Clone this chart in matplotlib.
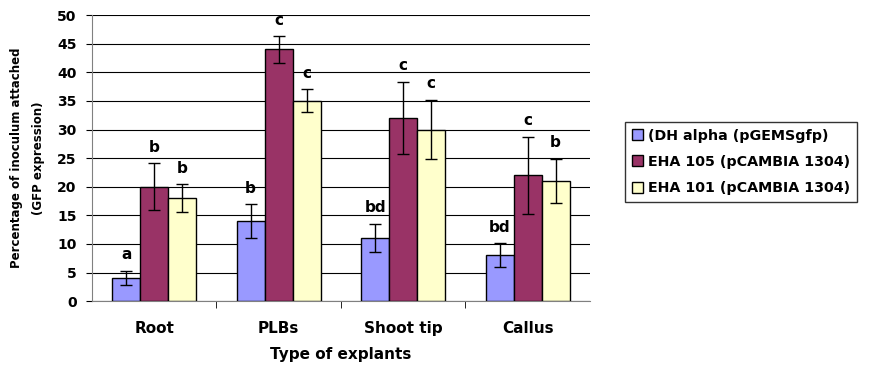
import numpy as np
import matplotlib.pyplot as plt
from matplotlib.patches import Patch

plt.rcParams['font.family'] = ['DejaVu Sans']
plt.rcParams['font.weight'] = 'bold'

categories = ["Root", "PLBs", "Shoot tip", "Callus"]
series_names = ["(DH alpha (pGEMSgfp)", "EHA 105 (pCAMBIA 1304)", "EHA 101 (pCAMBIA 1304)"]
colors = ["#9999FF", "#993366", "#FFFFCC"]

dh_alpha = [4, 14, 11, 8]
eha105 = [20, 44, 32, 22]
eha101 = [18, 35, 30, 21]
dh_alpha_err = [1.25, 2.9, 2.5, 2.1]
eha105_err = [4.1, 2.3, 6.3, 6.7]
eha101_err = [2.4, 2.0, 5.2, 3.9]
dh_alpha_letters = ["a", "b", "bd", "bd"]
eha105_letters = ["b", "c", "c", "c"]
eha101_letters = ["b", "c", "c", "b"]

values = [dh_alpha, eha105, eha101]
errors = [dh_alpha_err, eha105_err, eha101_err]
letters = [dh_alpha_letters, eha105_letters, eha101_letters]

fig = plt.figure(figsize=(8.7, 3.69), dpi=100)
ax = fig.add_axes([0.1057, 0.184, 0.5723, 0.775])

x = np.arange(len(categories))
w = 0.225
for i in range(3):
    pos = x + (i - 1) * w
    ax.bar(pos, values[i], w, color=colors[i], edgecolor="black", linewidth=1.0, zorder=3)
    ax.errorbar(pos, values[i], yerr=errors[i], fmt="none", ecolor="black",
                elinewidth=1.0, capsize=4, capthick=1.0, zorder=4)
    for p, v, e, t in zip(pos, values[i], errors[i], letters[i]):
        ax.text(p, v + e + 1.5, t, ha="center", va="bottom",
                fontsize=11, fontweight="bold")

ax.set_xlim(-0.5, 3.5)
ax.set_ylim(0, 50)
ax.set_yticks(range(0, 51, 5))
ax.tick_params(axis="y", labelsize=10, length=4, pad=7, direction="out")
ax.set_xticks(x)
ax.set_xticklabels(categories, fontsize=11, fontweight="bold")
ax.tick_params(axis="x", length=0, pad=14)
ax.set_xticks([0.5, 1.5, 2.5], minor=True)
ax.tick_params(axis="x", which="minor", length=5, direction="out")
ax.grid(axis="y", color="black", linewidth=0.8, zorder=0)
for s in ["top", "right"]:
    ax.spines[s].set_visible(False)
ax.spines["left"].set_color("#808080")
ax.spines["bottom"].set_color("#808080")

ax.set_xlabel("Type of explants", fontsize=11, fontweight="bold", labelpad=8)
ax.set_ylabel("Percentage of inoculum attached\n(GFP expression)", fontsize=8.5,
              fontweight="bold", labelpad=9, linespacing=1.9)

handles = [Patch(facecolor=c, edgecolor="black", label=n) for c, n in zip(colors, series_names)]
fig.legend(handles=handles, loc="upper left", bbox_to_anchor=(0.71, 0.69),
           frameon=True, fancybox=False, edgecolor="black",
           handlelength=0.8, handleheight=0.8, handletextpad=0.3, borderpad=0.5,
           labelspacing=0.85, prop={"weight": "bold", "size": 10.3})

fig.savefig("out.png", dpi=100)
